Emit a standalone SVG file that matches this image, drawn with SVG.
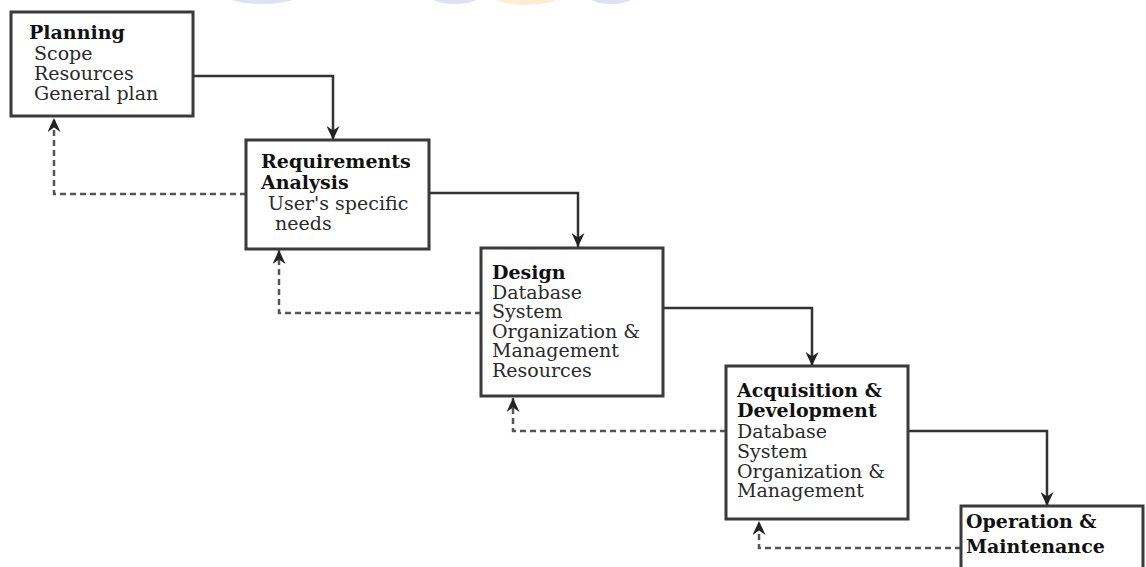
<svg xmlns="http://www.w3.org/2000/svg" width="1146" height="567" viewBox="0 0 1146 567">
  <style>
    .box { fill: #ffffff; stroke: #3a3a3a; stroke-width: 3; }
    .title { font-family: "DejaVu Serif", "Liberation Serif", serif; font-size: 19px; font-weight: bold; fill: #111111; }
    .body { font-family: "DejaVu Serif", "Liberation Serif", serif; font-size: 19px; fill: #2a2a2a; }
    .flow { fill: none; stroke: #333333; stroke-width: 2.5; marker-end: url(#head); }
    .back { fill: none; stroke: #555555; stroke-width: 2.5; stroke-dasharray: 6 4; marker-end: url(#head); }
    .mark { stroke: none; }
  </style>
  <defs>
    <marker id="head" markerUnits="userSpaceOnUse" markerWidth="15" markerHeight="13" refX="14" refY="6.5" orient="auto" viewBox="0 0 15 13">
      <path d="M0,0 L14,6.5 L0,13 L4.5,6.5 z" fill="#222222"/>
    </marker>
  </defs>

  <rect width="1146" height="567" fill="#ffffff"/>

  <!-- faint banner shapes cut off at the top edge -->
  <g id="banner" class="mark" opacity="0.6">
    <ellipse cx="262" cy="-6" rx="38" ry="10" fill="#c9cdec"/>
    <ellipse cx="455" cy="-6" rx="27" ry="10" fill="#c9cdec"/>
    <ellipse cx="526" cy="-5" rx="35" ry="10" fill="#fbe6b0"/>
    <ellipse cx="611" cy="-6" rx="25" ry="10" fill="#c9cdec"/>
  </g>

  <!-- connectors: solid forward flow, dashed feedback -->
  <g id="connectors">
    <path class="flow" d="M193,76 H333 V140"/>
    <path class="flow" d="M429,193 H578 V247"/>
    <path class="flow" d="M663,308 H812 V366"/>
    <path class="flow" d="M908,431 H1047 V506"/>
    <path class="back" d="M246,194 H54 V118"/>
    <path class="back" d="M481,313 H279 V250"/>
    <path class="back" d="M726,431 H513 V398"/>
    <path class="back" d="M961,548 H759 V521"/>
  </g>

  <g id="planning">
    <rect class="box" x="11" y="12" width="182" height="104"/>
    <text class="title" x="29" y="39">Planning</text>
    <text class="body" x="34" y="60">Scope</text>
    <text class="body" x="34" y="80">Resources</text>
    <text class="body" x="34" y="100">General plan</text>
  </g>

  <g id="requirements">
    <rect class="box" x="246" y="140" width="183" height="109"/>
    <text class="title" x="261" y="168">Requirements</text>
    <text class="title" x="261" y="189">Analysis</text>
    <text class="body" x="268" y="210">User's specific</text>
    <text class="body" x="275" y="230">needs</text>
  </g>

  <g id="design">
    <rect class="box" x="481" y="248" width="182" height="148"/>
    <text class="title" x="492" y="279">Design</text>
    <text class="body" x="492" y="299">Database</text>
    <text class="body" x="492" y="318">System</text>
    <text class="body" x="492" y="338">Organization &amp;</text>
    <text class="body" x="492" y="357">Management</text>
    <text class="body" x="492" y="377">Resources</text>
  </g>

  <g id="acquisition">
    <rect class="box" x="726" y="366" width="182" height="153"/>
    <text class="title" x="737" y="397">Acquisition &amp;</text>
    <text class="title" x="737" y="417">Development</text>
    <text class="body" x="737" y="438">Database</text>
    <text class="body" x="737" y="458">System</text>
    <text class="body" x="737" y="478">Organization &amp;</text>
    <text class="body" x="737" y="497">Management</text>
  </g>

  <g id="operation">
    <rect class="box" x="961" y="506" width="182" height="80"/>
    <text class="title" x="966" y="528">Operation &amp;</text>
    <text class="title" x="966" y="553">Maintenance</text>
  </g>
</svg>
